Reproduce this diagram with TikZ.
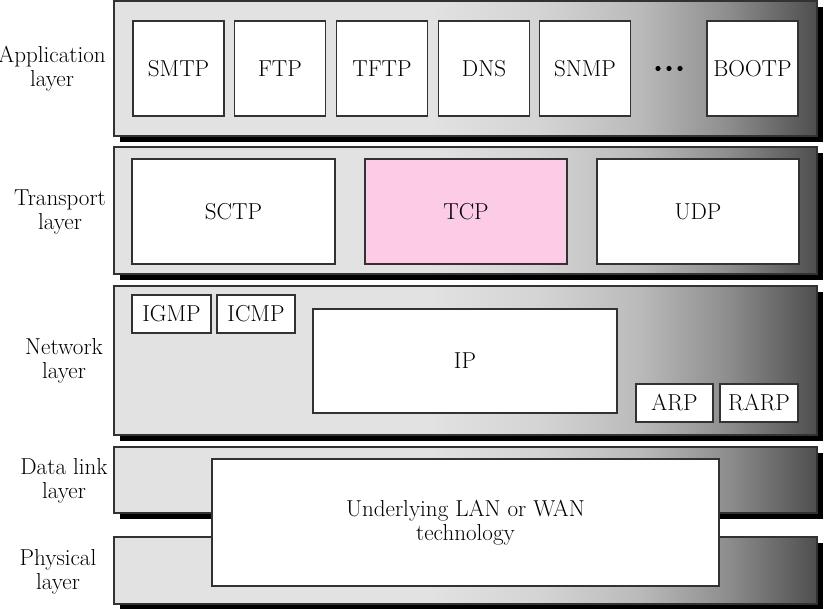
\documentclass[tikz,border=0pt]{standalone}
\usepackage{fontspec}
\definecolor{gA}{RGB}{226,226,226}
\definecolor{gB}{RGB}{212,212,212}
\definecolor{gC}{RGB}{186,186,186}
\definecolor{gD}{RGB}{140,140,140}
\definecolor{gE}{RGB}{78,78,78}
\definecolor{tcppink}{RGB}{252,204,230}
\definecolor{edge}{RGB}{50,50,50}
\pgfdeclarehorizontalshading{layershade}{100bp}{color(0bp)=(gA); color(47.5bp)=(gA); color(55.3bp)=(gB); color(62.4bp)=(gC); color(68.8bp)=(gD); color(75bp)=(gE); color(100bp)=(gE)}
\tikzset{
  layerbox/.style={draw=edge, line width=0.8pt, shading=layershade, shading angle=0},
  protobox/.style={draw=edge, fill=white, line width=0.9pt, inner sep=0pt, font=\fontsize{17.3}{18}\selectfont},
  lbl/.style={align=center, inner sep=0pt, font=\fontsize{17.3}{18}\selectfont},
}
\begin{document}
\begin{tikzpicture}[x=0.75pt,y=-0.75pt]
\useasboundingbox (0,0) rectangle (832,609);
% layers: shadows then boxes
\foreach \t/\b in {1/136,147/274,286/435,447/513,537/604}{
  \fill[black] (120,\t+6) rectangle (823,\b+6);
  \path[layerbox] (114,\t) rectangle (817,\b);
}
% labels
\node[lbl] (lapp) at (52,69) {Application\\layer};
\node[lbl] (ltra) at (60,212) {Transport\\layer};
\node[lbl] (lnet) at (64,361) {Network\\layer};
\node[lbl] (ldl) at (64,481) {Data link\\layer};
\node[lbl] (lph) at (58,572) {Physical\\layer};
% application
\node[protobox, minimum width=68.25pt, minimum height=71.25pt] (smtp) at (178.5,68.5) {SMTP};
\node[protobox, minimum width=68.25pt, minimum height=71.25pt] (ftp) at (280,68.5) {FTP};
\node[protobox, minimum width=68.25pt, minimum height=71.25pt] (tftp) at (382,68.5) {TFTP};
\node[protobox, minimum width=68.25pt, minimum height=71.25pt] (dns) at (484,68.5) {DNS};
\node[protobox, minimum width=68.25pt, minimum height=71.25pt] (snmp) at (585,68.5) {SNMP};
\node[protobox, minimum width=68.25pt, minimum height=71.25pt] (bootp) at (752.5,68.5) {BOOTP};
\foreach \x in {658,669,680}{\fill[black] (\x,68.5) circle (2.6);}
% transport
\node[protobox, minimum width=152.25pt, minimum height=78.75pt] (sctp) at (233.5,211.5) {SCTP};
\node[protobox, fill=tcppink, minimum width=151.5pt, minimum height=78.75pt] (tcp) at (466,211.5) {TCP};
\node[protobox, minimum width=151.5pt, minimum height=78.75pt] (udp) at (698,211.5) {UDP};
% network
\node[protobox, minimum width=59.25pt, minimum height=28.5pt] (igmp) at (171.5,314) {IGMP};
\node[protobox, minimum width=58.5pt, minimum height=28.5pt] (icmp) at (256,314) {ICMP};
\node[protobox, minimum width=228pt, minimum height=78pt] (ip) at (465,361) {IP};
\node[protobox, minimum width=57.75pt, minimum height=28.5pt] (arp) at (674.5,403) {ARP};
\node[protobox, minimum width=58.5pt, minimum height=28.5pt] (rarp) at (759,403) {RARP};
% underlying
\node[protobox, align=center, minimum width=380.25pt, minimum height=95.25pt] (lan) at (465.5,522.5) {Underlying LAN or WAN\\technology};
\end{tikzpicture}
\end{document}
